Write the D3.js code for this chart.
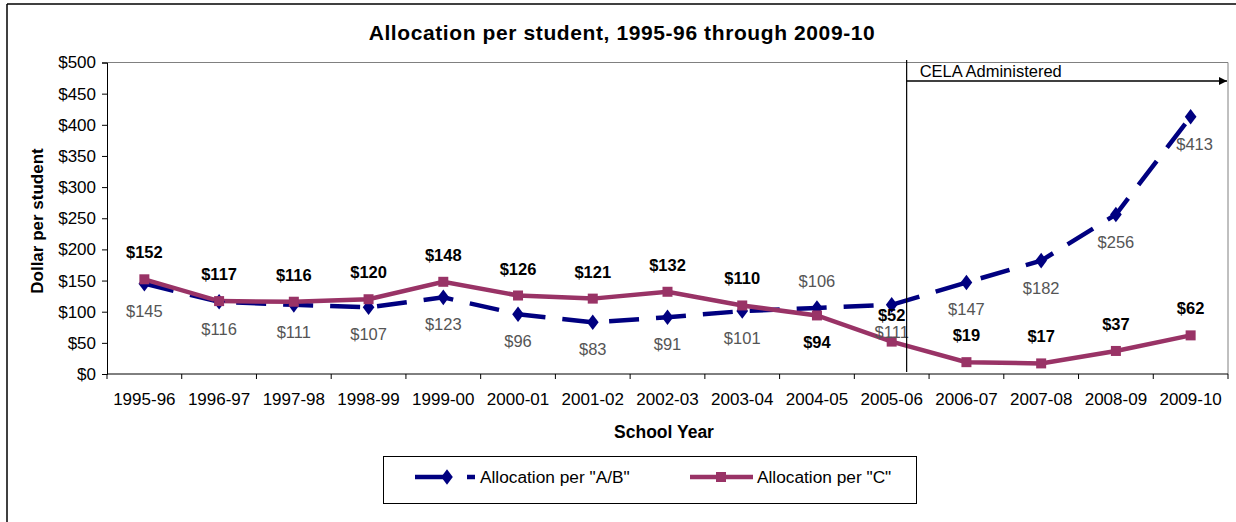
<!DOCTYPE html>
<html>
<head>
<meta charset="utf-8">
<script src="https://cdn.jsdelivr.net/npm/d3@7/dist/d3.min.js"></script>
<style>
  html, body { margin: 0; padding: 0; background: #fff; }
  svg { display: block; font-family: "Liberation Sans", Arial, sans-serif; }
</style>
</head>
<body>
<svg id="chart" width="1236" height="522"></svg>
<script>
const categories = ["1995-96","1996-97","1997-98","1998-99","1999-00","2000-01","2001-02","2002-03","2003-04","2004-05","2005-06","2006-07","2007-08","2008-09","2009-10"];
const seriesAB = [145,116,111,107,123,96,83,91,101,106,111,147,182,256,413];
const seriesC  = [152,117,116,120,148,126,121,132,110,94,52,19,17,37,62];
// label placement: 1 = above point, -1 = below point
const labelPosAB = [-1,-1,-1,-1,-1,-1,-1,-1,-1,1,-1,-1,-1,-1,-1];
const labelPosC  = [1,1,1,1,1,1,1,1,1,-1,1,1,1,1,1];
const yTicks = [0,50,100,150,200,250,300,350,400,450,500];
const seriesNames = ['Allocation per "A/B"','Allocation per "C"'];
const annotationText = "CELA Administered";
const annotationAfter = "2005-06";

const svg = d3.select("#chart");
const L = 107, R = 1228, T = 62.5, B = 374;
const colAB = "#000080", colC = "#993366";

const x = d3.scaleBand().domain(categories).range([L, R]).padding(0);
const bw = x.bandwidth();
const cx = c => x(c) + bw / 2;
const y = d3.scaleLinear().domain([0, 500]).range([B, T]);

// outer chart border
svg.append("line").attr("x1", 7).attr("x2", 1236).attr("y1", 4).attr("y2", 4).attr("stroke", "#000").attr("stroke-width", 1.5);
svg.append("line").attr("x1", 7).attr("x2", 7).attr("y1", 4).attr("y2", 522).attr("stroke", "#000").attr("stroke-width", 1.5);

// plot area border (top/right)
svg.append("path").attr("d", `M${L},${T}H${R}V${B}`).attr("fill", "none").attr("stroke", "#808080").attr("stroke-width", 1);

// title
svg.append("text").attr("x", 622).attr("y", 40).attr("text-anchor", "middle")
  .attr("font-size", 21).attr("letter-spacing", 0.6).attr("font-weight", "bold").text("Allocation per student, 1995-96 through 2009-10");

// y axis
const yAxis = d3.axisLeft(y).tickValues(yTicks).tickSize(5).tickFormat(d => "$" + d);
const gy = svg.append("g").attr("transform", `translate(${L},0)`).call(yAxis);
gy.select(".domain").attr("stroke", "#000");
gy.selectAll(".tick line").attr("stroke", "#000");
gy.selectAll(".tick text").attr("font-size", 17).attr("fill", "#000").attr("x", -11)
  .attr("font-family", "Liberation Sans, Arial, sans-serif");

// x axis: ticks at band boundaries
const gx = svg.append("g").attr("transform", `translate(0,${B})`);
gx.append("line").attr("x1", L).attr("x2", R).attr("stroke", "#000");
const bounds = categories.map(c => x(c)).concat([R]);
gx.selectAll("line.tk").data(bounds).enter().append("line").attr("class", "tk")
  .attr("x1", d => d).attr("x2", d => d).attr("y1", 0).attr("y2", 5).attr("stroke", "#000");
gx.selectAll("text.lbl").data(categories).enter().append("text").attr("class", "lbl")
  .attr("x", d => cx(d)).attr("y", 31).attr("text-anchor", "middle").attr("font-size", 17).text(d => d);

// axis titles
svg.append("text").attr("x", 664).attr("y", 438).attr("text-anchor", "middle")
  .attr("font-size", 17.5).attr("font-weight", "bold").text("School Year");
svg.append("text").attr("transform", "translate(43,221) rotate(-90)").attr("text-anchor", "middle")
  .attr("font-size", 17).attr("font-weight", "bold").text("Dollar per student");

// lines
const lineGen = d3.line().x((d, i) => cx(categories[i])).y(d => y(d));
svg.append("path").datum(seriesAB).attr("d", lineGen).attr("fill", "none")
  .attr("stroke", colAB).attr("stroke-width", 4.5).attr("stroke-dasharray", "30,17");
svg.append("path").datum(seriesC).attr("d", lineGen).attr("fill", "none")
  .attr("stroke", colC).attr("stroke-width", 4.5);

// markers
const diamond = d3.symbol().type(d3.symbolDiamond).size(70);
svg.selectAll("path.mAB").data(seriesAB).enter().append("path").attr("class", "mAB")
  .attr("d", diamond).attr("transform", (d, i) => `translate(${cx(categories[i])},${y(d)}) scale(1.3,1)`)
  .attr("fill", colAB);
svg.selectAll("rect.mC").data(seriesC).enter().append("rect").attr("class", "mC")
  .attr("x", (d, i) => cx(categories[i]) - 5).attr("y", d => y(d) - 5)
  .attr("width", 10).attr("height", 10).attr("fill", colC);

// data labels
svg.selectAll("text.lAB").data(seriesAB).enter().append("text").attr("class", "lAB")
  .attr("x", (d, i) => cx(categories[i]) + (i === 14 ? 4 : 0))
  .attr("y", (d, i) => y(d) - labelPosAB[i] * 27 + 6)
  .attr("text-anchor", "middle").attr("font-size", 16.5).attr("fill", "#555")
  .text(d => "$" + d);
svg.selectAll("text.lC").data(seriesC).enter().append("text").attr("class", "lC")
  .attr("x", (d, i) => cx(categories[i]))
  .attr("y", (d, i) => y(d) - labelPosC[i] * 27 + 6)
  .attr("text-anchor", "middle").attr("font-size", 16.5).attr("font-weight", "bold").attr("fill", "#000")
  .text(d => "$" + d);

// CELA annotation
const ax = cx(annotationAfter) + 0.2 * bw;
svg.append("defs").append("marker").attr("id", "arrow").attr("viewBox", "0 0 10 10")
  .attr("refX", 10).attr("refY", 5).attr("markerWidth", 10).attr("markerHeight", 8)
  .attr("markerUnits", "userSpaceOnUse").attr("orient", "auto")
  .append("path").attr("d", "M0,0L10,5L0,10Z").attr("fill", "#000");
svg.append("line").attr("x1", ax).attr("x2", ax).attr("y1", 60).attr("y2", 372).attr("stroke", "#000").attr("stroke-width", 1.2);
svg.append("line").attr("x1", ax).attr("x2", R - 1).attr("y1", 81).attr("y2", 81).attr("stroke", "#000")
  .attr("stroke-width", 1.5).attr("marker-end", "url(#arrow)");
svg.append("text").attr("x", ax + 13).attr("y", 77).attr("font-size", 16.5).text(annotationText);

// legend
const lg = svg.append("g");
lg.append("rect").attr("x", 383.5).attr("y", 456.5).attr("width", 533).attr("height", 47)
  .attr("fill", "#fff").attr("stroke", "#000").attr("stroke-width", 1);
lg.append("line").attr("x1", 415).attr("x2", 475).attr("y1", 477).attr("y2", 477)
  .attr("stroke", colAB).attr("stroke-width", 4.5).attr("stroke-dasharray", "35,17,8");
lg.append("path").attr("d", diamond).attr("transform", "translate(447,477) scale(1.3,1)").attr("fill", colAB);
lg.append("text").attr("x", 480).attr("y", 483).attr("font-size", 17.3).text(seriesNames[0]);
lg.append("line").attr("x1", 690).attr("x2", 753).attr("y1", 477).attr("y2", 477)
  .attr("stroke", colC).attr("stroke-width", 4.5);
lg.append("rect").attr("x", 716).attr("y", 472).attr("width", 10).attr("height", 10).attr("fill", colC);
lg.append("text").attr("x", 757).attr("y", 483).attr("font-size", 17.3).text(seriesNames[1]);
</script>
</body>
</html>
